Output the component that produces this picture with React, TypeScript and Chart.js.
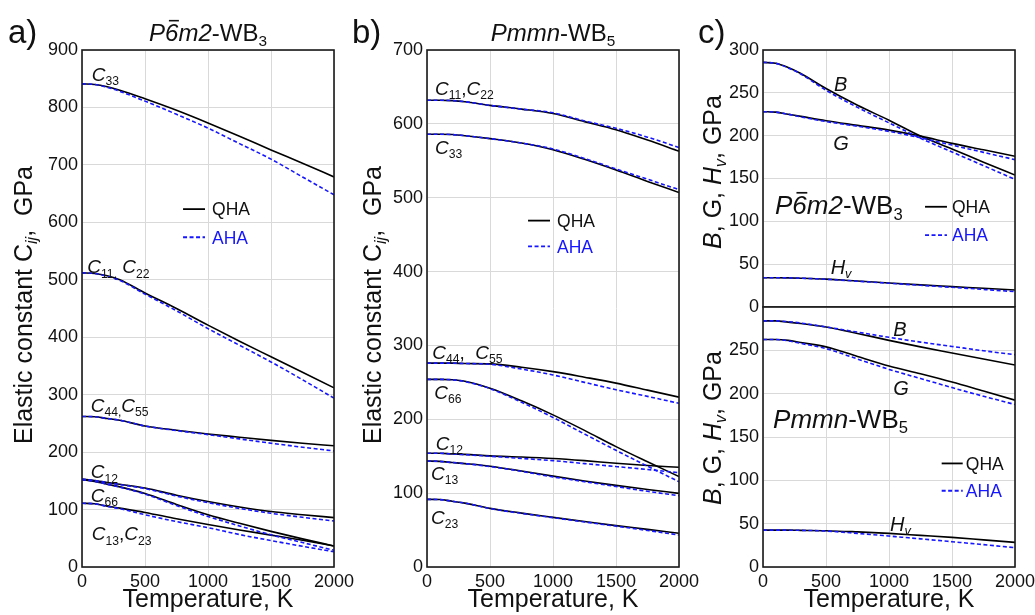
import React, { useEffect, useRef } from 'react';
import { Chart, registerables } from 'chart.js';
Chart.register(...registerables);

const W = 1035;
const H = 615;
const FONT = '"Liberation Sans", Arial, Helvetica, sans-serif';
const BLUE = '#1616ff';
const GRID = '#d9d9d9';
const INK = '#111111';

// ---------- data ----------
const TEMPS = [0, 100, 200, 300, 500, 750, 1000, 1250, 1500, 1750, 2000];
const X_TICKS = [0, 500, 1000, 1500, 2000];

// panel a) P-6m2-WB3, elastic constants (GPa)
const A_C33_QHA = [841, 840, 836, 830, 815, 795, 773, 750, 726, 703, 679];
const A_C33_AHA = [841, 840, 835, 828, 811, 788, 764, 737, 710, 679, 648];
const A_C11_QHA = [512, 511, 507, 500, 477, 450, 421, 393, 366, 339, 312];
const A_C11_AHA = [512, 511, 506, 499, 475, 446, 415, 386, 357, 326, 294];
const A_C44_QHA = [262, 261.5, 258.5, 255.5, 245.5, 238, 231.5, 226, 220.5, 215.5, 211];
const A_C44_AHA = [262, 261.5, 258.5, 255.5, 245.5, 237.5, 230.5, 223, 215.5, 208.5, 202];
const A_C12_QHA = [153, 150.5, 147, 144, 137.5, 125, 114, 104.5, 96.5, 91, 86];
const A_C12_AHA = [153, 150.5, 147, 143.5, 136.5, 123.5, 112, 102, 93.5, 86.5, 80];
const A_C66_QHA = [152, 149, 144, 139.5, 128, 109, 91, 76, 62, 49, 36.6];
const A_C66_AHA = [152, 149, 144, 139, 127, 107, 88, 71.5, 56, 42.5, 29];
const A_C13_QHA = [111, 110, 106, 102.5, 95, 84, 74, 64.5, 55.5, 46.5, 36.6];
const A_C13_AHA = [111, 110, 105.5, 101.5, 91, 79, 68.5, 56.5, 46, 36, 26.5];

// panel b) Pmmn-WB5, elastic constants (GPa)
const B_C11_QHA = [632, 632, 631.5, 630, 625, 620, 614, 603, 592, 578, 563];
const B_C11_AHA = [632, 632, 631.5, 630, 625, 620, 615, 604, 594, 582, 568];
const B_C33_QHA = [586, 586, 585.5, 584, 580, 574, 565, 552, 537.5, 522, 507];
const B_C33_AHA = [586, 586, 585.5, 584, 580, 574, 566, 553, 539, 525, 511];
const B_C44_QHA = [276, 276, 276, 275.5, 275, 270.5, 264.5, 257, 249, 239.5, 230];
const B_C44_AHA = [276, 276, 276, 275.5, 274.5, 268, 260, 250, 240, 231, 221.6];
const B_C66_QHA = [254, 254, 253.5, 251.5, 242, 225, 206, 185, 163, 142.5, 122.5];
const B_C66_AHA = [254, 254, 253.5, 251, 241.5, 223, 202.5, 180, 158, 136.5, 115.5];
const B_C12_QHA = [154, 154, 153, 152.5, 150.5, 149, 147, 144, 140.5, 137.5, 135];
const B_C12_AHA = [154, 154, 153, 152, 150, 147, 144, 140, 136, 132, 127.7];
const B_C13_QHA = [143.5, 143, 141.5, 140, 136.5, 130, 123, 116.5, 110.5, 105, 99.7];
const B_C13_AHA = [143.5, 143, 141.5, 140, 136, 129.5, 122, 115.5, 109, 102.5, 96.6];
const B_C23_QHA = [91.6, 91.3, 89, 86.5, 79.4, 73, 67.2, 61.5, 56, 51, 45.6];
const B_C23_AHA = [91.6, 91.3, 89, 86.5, 79.2, 72.6, 66.8, 61, 55.3, 49.5, 43.3];

// panel c) top: P-6m2-WB3 moduli (GPa)
const CT_B_QHA = [285.5, 284.5, 279.5, 272.5, 255, 235.5, 218, 199.5, 184.5, 169, 154];
const CT_B_AHA = [285.5, 284.5, 279, 272, 253, 233, 215, 197, 181, 165, 149];
const CT_G_QHA = [228, 227.5, 225, 222.5, 217.5, 212, 206.5, 199.5, 191, 183.5, 176];
const CT_G_AHA = [228, 227.5, 225, 222, 216.5, 211, 205, 197.5, 189, 180.5, 172];
const CT_H_QHA = [34.2, 34.2, 34, 33.6, 32.5, 30.3, 28, 25.8, 23.8, 21.8, 19.8];
const CT_H_AHA = [34.2, 34.2, 34, 33.6, 32.4, 30.1, 27.8, 25.3, 23, 20.5, 17.9];

// panel c) bottom: Pmmn-WB5 moduli (GPa)
const CB_B_QHA = [284, 284, 282.5, 281, 277, 269.5, 261.5, 254, 247, 240, 233];
const CB_B_AHA = [284, 284, 283, 281.5, 277, 271, 265, 259.5, 254.5, 249.5, 245];
const CB_G_QHA = [262.5, 262.5, 261.5, 259, 254, 243, 232, 223, 213.5, 203, 192.5];
const CB_G_AHA = [262.5, 262.5, 261, 258, 252, 240, 228, 217.5, 207, 197, 187.5];
const CB_H_QHA = [42.6, 42.6, 42.5, 42.3, 41.9, 40.5, 38.8, 36.5, 34.2, 31.3, 28.4];
const CB_H_AHA = [42.6, 42.6, 42.5, 42.3, 41.5, 38.8, 35.7, 32.5, 29.2, 25.8, 22.3];

// ---------- rich text ----------
type Seg = { t: string; it?: boolean; sub?: boolean; over?: boolean; color?: string };
type TextItem = {
  segs: Seg[];
  x: number;
  y: number;
  data?: boolean;
  size: number;
  align?: 'left' | 'center' | 'right';
  rot?: number;
  color?: string;
};

const f = (size: number, it?: boolean) => `${it ? 'italic ' : ''}${size}px ${FONT}`;

function drawRich(ctx: CanvasRenderingContext2D, item: TextItem, px: number, py: number) {
  const { segs, size } = item;
  const align = item.align || 'left';
  const subSize = size * 0.64;
  ctx.save();
  ctx.translate(px, py);
  if (item.rot) ctx.rotate(item.rot);
  ctx.textBaseline = 'alphabetic';
  ctx.textAlign = 'left';
  const widths = segs.map((s) => {
    ctx.font = f(s.sub ? subSize : size, s.it);
    return ctx.measureText(s.t).width;
  });
  const total = widths.reduce((a, b) => a + b, 0);
  let cx = align === 'center' ? -total / 2 : align === 'right' ? -total : 0;
  const base = size * 0.358;
  segs.forEach((s, i) => {
    const sz = s.sub ? subSize : size;
    ctx.font = f(sz, s.it);
    ctx.fillStyle = s.color || item.color || INK;
    const yy = base + (s.sub ? size * 0.22 : 0);
    ctx.fillText(s.t, cx, yy);
    if (s.over) {
      ctx.beginPath();
      ctx.lineWidth = Math.max(1, size * 0.065);
      ctx.strokeStyle = ctx.fillStyle as string;
      const oy = base - size * 0.83;
      ctx.moveTo(cx + size * 0.16, oy);
      ctx.lineTo(cx + widths[i] + size * 0.02, oy);
      ctx.stroke();
    }
    cx += widths[i];
  });
  ctx.restore();
}

const C = (sub: string): Seg[] => [{ t: 'C', it: true }, { t: sub, sub: true }];

// ---------- panel definitions ----------
type Curve = { qha: number[]; aha: number[] };
type Legend = { x1: number; x2: number; xt: number; yq: number; ya: number };
type Panel = {
  l: number; r: number; t: number; b: number;
  yMax: number; yStep: number;
  hideY?: number;
  showX: boolean;
  curves: Curve[];
  texts: TextItem[];
  legend: Legend;
};

const YT_SIZE = 25;
const LBL = 19;
const TTL = 24;

const PANELS: Panel[] = [
  {
    l: 82, r: 334, t: 50, b: 567, yMax: 900, yStep: 100, showX: true,
    curves: [
      { qha: A_C33_QHA, aha: A_C33_AHA },
      { qha: A_C11_QHA, aha: A_C11_AHA },
      { qha: A_C44_QHA, aha: A_C44_AHA },
      { qha: A_C12_QHA, aha: A_C12_AHA },
      { qha: A_C66_QHA, aha: A_C66_AHA },
      { qha: A_C13_QHA, aha: A_C13_AHA },
    ],
    texts: [
      { segs: [{ t: 'a)' }], x: 8, y: 31, size: 33 },
      { segs: [{ t: 'P', it: true }, { t: '6', it: true, over: true }, { t: 'm2', it: true }, { t: '-WB' }, { t: '3', sub: true }], x: 208, y: 32, size: TTL, align: 'center' },
      { segs: [{ t: 'Elastic constant ' }, { t: 'C' }, { t: 'ij', sub: true, it: true }, { t: ',  GPa' }], x: 23, y: 305, size: YT_SIZE, align: 'center', rot: -Math.PI / 2 },
      { segs: [{ t: 'Temperature, K' }], x: 208, y: 598, size: YT_SIZE, align: 'center' },
      { segs: C('33'), x: 77, y: 858, data: true, size: LBL },
      { segs: [...C('11,'), { t: ' ' }, ...C('22')], x: 42, y: 523, data: true, size: LBL },
      { segs: [...C('44,'), ...C('55')], x: 69, y: 282, data: true, size: LBL },
      { segs: C('12'), x: 69, y: 166, data: true, size: LBL },
      { segs: C('66'), x: 69, y: 125, data: true, size: LBL },
      { segs: [...C('13'), { t: ',' }, ...C('23')], x: 77, y: 58, data: true, size: LBL },
    ],
    legend: { x1: 802, x2: 976, xt: 1032, yq: 623, ya: 574 },
  },
  {
    l: 427, r: 679, t: 50, b: 567, yMax: 700, yStep: 100, showX: true,
    curves: [
      { qha: B_C11_QHA, aha: B_C11_AHA },
      { qha: B_C33_QHA, aha: B_C33_AHA },
      { qha: B_C44_QHA, aha: B_C44_AHA },
      { qha: B_C66_QHA, aha: B_C66_AHA },
      { qha: B_C12_QHA, aha: B_C12_AHA },
      { qha: B_C13_QHA, aha: B_C13_AHA },
      { qha: B_C23_QHA, aha: B_C23_AHA },
    ],
    texts: [
      { segs: [{ t: 'b)' }], x: 352, y: 31, size: 33 },
      { segs: [{ t: 'Pmmn', it: true }, { t: '-WB' }, { t: '5', sub: true }], x: 553, y: 32, size: TTL, align: 'center' },
      { segs: [{ t: 'Elastic constant ' }, { t: 'C' }, { t: 'ij', sub: true, it: true }, { t: ',  GPa' }], x: 372, y: 305, size: YT_SIZE, align: 'center', rot: -Math.PI / 2 },
      { segs: [{ t: 'Temperature, K' }], x: 553, y: 598, size: YT_SIZE, align: 'center' },
      { segs: [...C('11'), { t: ',' }, ...C('22')], x: 63, y: 648, data: true, size: LBL },
      { segs: C('33'), x: 63, y: 569, data: true, size: LBL },
      { segs: [...C('44'), { t: ',  ' }, ...C('55')], x: 42, y: 291.5, data: true, size: LBL },
      { segs: C('66'), x: 58, y: 237, data: true, size: LBL },
      { segs: C('12'), x: 69, y: 167.5, data: true, size: LBL },
      { segs: C('13'), x: 31, y: 127, data: true, size: LBL },
      { segs: C('23'), x: 31, y: 68, data: true, size: LBL },
    ],
    legend: { x1: 802, x2: 976, xt: 1032, yq: 469, ya: 434 },
  },
  {
    l: 763, r: 1015, t: 50, b: 307, yMax: 300, yStep: 50, showX: false,
    curves: [
      { qha: CT_B_QHA, aha: CT_B_AHA },
      { qha: CT_G_QHA, aha: CT_G_AHA },
      { qha: CT_H_QHA, aha: CT_H_AHA },
    ],
    texts: [
      { segs: [{ t: 'c)' }], x: 698, y: 31, size: 33 },
      { segs: [{ t: 'B', it: true }, { t: ', G, ' }, { t: 'H', it: true }, { t: 'v', sub: true, it: true }, { t: ', GPa' }], x: 712, y: 172, size: YT_SIZE, align: 'center', rot: -Math.PI / 2 },
      { segs: [{ t: 'P', it: true }, { t: '6', it: true, over: true }, { t: 'm2', it: true }, { t: '-WB' }, { t: '3', sub: true }], x: 95, y: 119, data: true, size: 26 },
      { segs: [{ t: 'B', it: true }], x: 563, y: 261, data: true, size: LBL + 1 },
      { segs: [{ t: 'G', it: true }], x: 558, y: 192, data: true, size: LBL + 1 },
      { segs: [{ t: 'H', it: true }, { t: 'v', it: true, sub: true }], x: 537, y: 47, data: true, size: LBL + 1 },
    ],
    legend: { x1: 1286, x2: 1460, xt: 1500, yq: 117, ya: 84 },
  },
  {
    l: 763, r: 1015, t: 307, b: 567, yMax: 300, yStep: 50, hideY: 300, showX: true,
    curves: [
      { qha: CB_B_QHA, aha: CB_B_AHA },
      { qha: CB_G_QHA, aha: CB_G_AHA },
      { qha: CB_H_QHA, aha: CB_H_AHA },
    ],
    texts: [
      { segs: [{ t: 'B', it: true }, { t: ', G, ' }, { t: 'H', it: true }, { t: 'v', sub: true, it: true }, { t: ', GPa' }], x: 712, y: 428, size: YT_SIZE, align: 'center', rot: -Math.PI / 2 },
      { segs: [{ t: 'Temperature, K' }], x: 889, y: 598, size: YT_SIZE, align: 'center' },
      { segs: [{ t: 'Pmmn', it: true }, { t: '-WB' }, { t: '5', sub: true }], x: 80, y: 171.5, data: true, size: 26 },
      { segs: [{ t: 'B', it: true }], x: 1034, y: 275, data: true, size: LBL + 1 },
      { segs: [{ t: 'G', it: true }], x: 1034, y: 207, data: true, size: LBL + 1 },
      { segs: [{ t: 'H', it: true }, { t: 'v', it: true, sub: true }], x: 1008, y: 50, data: true, size: LBL + 1 },
    ],
    legend: { x1: 1418, x2: 1585, xt: 1610, yq: 119.5, ya: 88 },
  },
];

const YW = 40;
const XH = 30;

function makeChart(canvas: HTMLCanvasElement, p: Panel): Chart {
  const pts = (arr: number[]) => TEMPS.map((t, i) => ({ x: t, y: arr[i] }));
  const datasets: any[] = [];
  p.curves.forEach((c, k) => {
    datasets.push({
      label: 'AHA ' + k, data: pts(c.aha), borderColor: BLUE, borderWidth: 1.6,
      borderDash: [4, 2.5], pointRadius: 0, cubicInterpolationMode: 'monotone', order: 0, fill: false,
    });
    datasets.push({
      label: 'QHA ' + k, data: pts(c.qha), borderColor: '#000', borderWidth: 1.6,
      pointRadius: 0, cubicInterpolationMode: 'monotone', order: 1, fill: false,
    });
  });

  const deco = {
    id: 'deco',
    afterDraw(chart: any) {
      const ctx: CanvasRenderingContext2D = chart.ctx;
      const a = chart.chartArea;
      const xs = chart.scales.x;
      const ys = chart.scales.y;
      // frame
      ctx.save();
      ctx.strokeStyle = '#1a1a1a';
      ctx.lineWidth = 1.6;
      ctx.strokeRect(a.left, a.top, a.right - a.left, a.bottom - a.top);
      ctx.restore();
      // legend
      const L = p.legend;
      const lx1 = xs.getPixelForValue(L.x1);
      const lx2 = xs.getPixelForValue(L.x2);
      const lxt = xs.getPixelForValue(L.xt);
      const yq = ys.getPixelForValue(L.yq);
      const ya = ys.getPixelForValue(L.ya);
      ctx.save();
      ctx.lineWidth = 1.8;
      ctx.strokeStyle = '#000';
      ctx.beginPath(); ctx.moveTo(lx1, yq); ctx.lineTo(lx2, yq); ctx.stroke();
      ctx.strokeStyle = BLUE;
      ctx.setLineDash([4, 2.5]);
      ctx.beginPath(); ctx.moveTo(lx1, ya); ctx.lineTo(lx2, ya); ctx.stroke();
      ctx.restore();
      drawRich(ctx, { segs: [{ t: 'QHA' }], x: 0, y: 0, size: 17.5 }, lxt, yq);
      drawRich(ctx, { segs: [{ t: 'AHA', color: BLUE }], x: 0, y: 0, size: 17.5 }, lxt, ya);
      // texts
      p.texts.forEach((tx) => {
        const px = tx.data ? xs.getPixelForValue(tx.x) : tx.x;
        const py = tx.data ? ys.getPixelForValue(tx.y) : tx.y;
        drawRich(ctx, tx, px, py);
      });
    },
  };

  return new Chart(canvas, {
    type: 'line',
    data: { datasets },
    plugins: [deco],
    options: {
      animation: false,
      responsive: false,
      devicePixelRatio: 1,
      events: [],
      layout: {
        padding: { left: p.l - YW, right: W - p.r, top: p.t, bottom: H - p.b - XH },
      },
      plugins: { legend: { display: false }, tooltip: { enabled: false }, title: { display: false } },
      scales: {
        x: {
          type: 'linear', min: 0, max: 2000,
          afterBuildTicks: (s: any) => { s.ticks = X_TICKS.map((v) => ({ value: v })); },
          afterFit: (s: any) => { s.height = XH; s.paddingLeft = 0; s.paddingRight = 0; },
          grid: { color: GRID, lineWidth: 1, drawTicks: false },
          border: { display: false },
          ticks: {
            display: p.showX, padding: 4, maxRotation: 0, autoSkip: false, color: INK,
            font: { family: FONT, size: 18 },
            callback: (v: any) => String(v),
          },
        },
        y: {
          type: 'linear', min: 0, max: p.yMax,
          afterFit: (s: any) => { s.width = YW; s.paddingTop = 0; s.paddingBottom = 0; },
          grid: { color: GRID, lineWidth: 1, drawTicks: false },
          border: { display: false },
          ticks: {
            stepSize: p.yStep, padding: 4, color: INK, autoSkip: false,
            font: { family: FONT, size: 18 },
            callback: (v: any) => (p.hideY !== undefined && Number(v) === p.hideY ? '' : String(v)),
          },
        },
      },
    } as any,
  });
}

export default function App() {
  const refs = [useRef<HTMLCanvasElement>(null), useRef<HTMLCanvasElement>(null), useRef<HTMLCanvasElement>(null), useRef<HTMLCanvasElement>(null)];
  useEffect(() => {
    const charts = PANELS.map((p, i) => makeChart(refs[i].current as HTMLCanvasElement, p));
    return () => charts.forEach((c) => c.destroy());
  }, []);
  return (
    <div style={{ position: 'fixed', left: 0, top: 0, width: W, height: H, background: '#fff', overflow: 'hidden' }}>
      {PANELS.map((_, i) => (
        <canvas
          key={i}
          ref={refs[i]}
          width={W}
          height={H}
          style={{ position: 'absolute', left: 0, top: 0, width: W, height: H }}
        />
      ))}
    </div>
  );
}
